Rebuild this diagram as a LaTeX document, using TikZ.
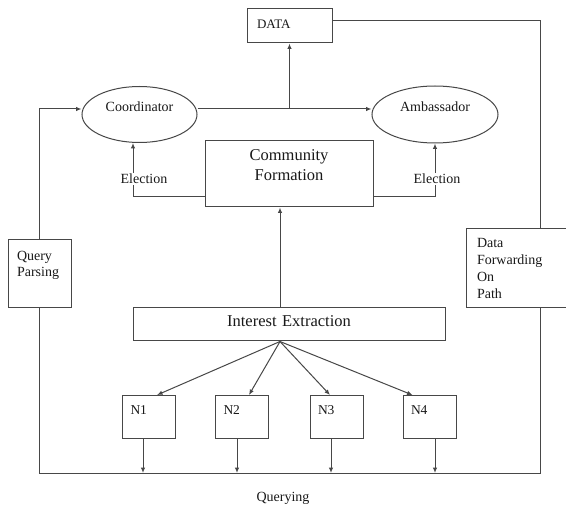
\documentclass[tikz,border=0pt]{standalone}
\usepackage{fontspec}
\setmainfont{Liberation Serif}
\usetikzlibrary{arrows.meta,shapes.geometric}
\newcommand\myfsmall{\fontsize{14}{16}\selectfont}
\newcommand\myfdf{\fontsize{14}{17}\selectfont}
\newcommand\myfbig{\fontsize{16.5}{20}\selectfont}
\newcommand\myfdata{\fontsize{13}{15}\selectfont}
\newcommand\myfn{\fontsize{13.5}{15}\selectfont}
\tikzset{
  ln/.style={draw=black!72, line width=1pt},
  arr/.style={ln, -{Latex[length=5.5pt,width=4.5pt]}},
  bx/.style={rectangle, draw=black!72, line width=1pt, inner ysep=0pt, text=black!90, font=\myfsmall},
  ell/.style={ellipse, draw=black!72, line width=1pt, inner sep=0pt, text=black!90, font=\myfsmall, text height=10pt, text depth=15pt},
  lbl/.style={text=black!90, font=\myfsmall},
  nbox/.style={bx, text width=37pt, inner xsep=8pt, align=left, text height=18.5pt, text depth=24.5pt, font=\myfn},
}
\begin{document}
\begin{tikzpicture}[x=1pt,y=-1pt]
\useasboundingbox (0,0) rectangle (566,508);
\clip (0,0) rectangle (566,508);
\fill[white] (0,0) rectangle (566,508);
% nodes
\node[bx, minimum width=85pt, text width=65pt, inner xsep=10pt, align=left, text height=20pt, text depth=14pt, font=\myfdata] (data) at (289.5,26) {DATA};
\node[ell, minimum width=115pt, minimum height=56pt] (coord) at (139.5,114.5) {Coordinator};
\node[ell, minimum width=126pt, minimum height=57pt] (amb) at (435,114.5) {Ambassador};
\node[bx, text width=160pt, inner xsep=4pt, align=center, text height=20pt, text depth=46pt, font=\myfbig] (cf) at (289,174) {Community\\Formation};
\node[bx, text width=45pt, inner xsep=9pt, align=left, text height=20.5pt, text depth=47.5pt] (qp) at (39.5,274) {Query\\Parsing};
\node[bx, text width=126pt, inner xsep=11pt, align=left, text height=19pt, text depth=60pt, font=\myfdf] (df) at (540,268.5) {Data\\Forwarding\\On\\Path};
\node[bx, text width=304pt, inner xsep=4pt, align=center, text height=18.5pt, text depth=14.5pt, font=\myfbig] (ie) at (289,324.5) {Interest Extraction};
\node[nbox] (n1) at (149,417) {N1};
\node[nbox] (n2) at (242,417) {N2};
\node[nbox] (n3) at (336.5,417) {N3};
\node[nbox] (n4) at (429.5,417) {N4};
\coordinate (mid) at (289.5,109);
\coordinate (ql) at (39.5,473);
\coordinate (fan) at ([xshift=-9pt]ie.south);
% connectors
\draw[arr] ([yshift=5.5pt]coord.east) -- ([yshift=5.5pt]amb.west);
\draw[arr] (mid) -- (data.south);
\draw[ln] ([yshift=5pt]data.east) -| (df.north);
\draw[ln] (df.south) |- (ql) -- (qp.south);
\draw[arr] (qp.north) |- ([yshift=5.5pt]coord.west);
\draw[arr] ([yshift=-23pt]cf.west) -| ([xshift=-6.5pt]coord.south);
\draw[arr] ([yshift=-23pt]cf.east) -| (amb.south);
\draw[arr] (ie.north -| fan) -- (cf.south -| fan);
\draw[arr] (fan) -- ([xshift=8pt]n1.north);
\draw[arr] (fan) -- ([xshift=7pt]n2.north);
\draw[arr] (fan) -- ([xshift=-6.5pt]n3.north);
\draw[arr] (fan) -- ([xshift=-17pt]n4.north);
\draw[arr] ([xshift=-6pt]n1.south) -- ([xshift=-6pt]n1.south |- ql);
\draw[arr] ([xshift=-5pt]n2.south) -- ([xshift=-5pt]n2.south |- ql);
\draw[arr] ([xshift=-5.5pt]n3.south) -- ([xshift=-5.5pt]n3.south |- ql);
\draw[arr] ([xshift=5.5pt]n4.south) -- ([xshift=5.5pt]n4.south |- ql);
% labels
\node[lbl, fill=white, inner sep=1pt] (el1) at (144,179) {Election};
\node[lbl, fill=white, inner sep=1pt] (el2) at (437,179) {Election};
\node[lbl] (qry) at (283,498) {Querying};
\end{tikzpicture}
\end{document}
